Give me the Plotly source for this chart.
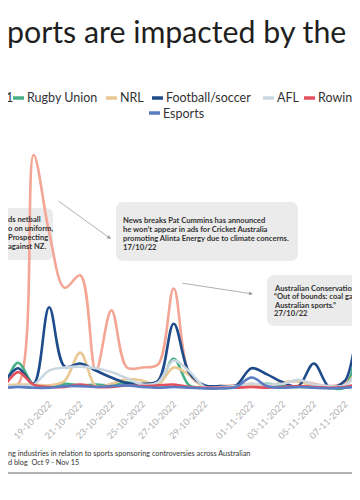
import plotly.graph_objects as go

# ---------------- data ----------------
dates = ["2022-10-15", "2022-10-16", "2022-10-17", "2022-10-18", "2022-10-19", "2022-10-20",
         "2022-10-21", "2022-10-22", "2022-10-23", "2022-10-24", "2022-10-25", "2022-10-26",
         "2022-10-27", "2022-10-28", "2022-10-29", "2022-10-30", "2022-10-31", "2022-11-01",
         "2022-11-02", "2022-11-03", "2022-11-04", "2022-11-05", "2022-11-06", "2022-11-07",
         "2022-11-08", "2022-11-09"]

cricket = [0.3, 0.2, 0.5, 29.9, 20.0, 12.9, 14.5, 2.3, 10.0, 2.7, 2.7, 3.1, 12.8, 1.8, 0.3, 0.3,
           0.4, 0.6, 0.4, 0.7, 1.0, 0.6, 0.3, 0.8, 3.0, 2.0]
rugby_union = [0.2, 0.4, 3.3, 0.5, 0.2, 0.6, 0.4, 0.5, 0.4, 0.8, 0.4, 0.5, 3.8, 0.4, 0.1, 0.1,
               0.2, 0.3, 0.6, 0.3, 0.2, 0.2, 0.1, 0.1, 5.0, 4.0]
nrl = [0.3, 0.4, 0.5, 0.5, 0.4, 1.0, 4.6, 0.3, 0.6, 1.2, 1.0, 0.5, 2.7, 1.7, 0.1, 0.1,
       0.2, 0.4, 0.3, 0.8, 0.9, 0.3, 0.1, 0.3, 2.6, 2.0]
football = [0.3, 0.8, 2.6, 0.6, 10.4, 2.8, 3.2, 2.3, 1.4, 0.7, 0.6, 1.0, 8.3, 2.0, 0.4, 0.3,
            0.4, 2.6, 1.8, 0.8, 0.3, 3.2, 0.2, 1.0, 7.0, 6.0]
afl = [0.3, 0.3, 0.3, 0.5, 2.3, 2.7, 2.8, 2.6, 2.1, 1.3, 0.5, 0.8, 3.6, 2.2, 0.2, 0.2,
       0.3, 0.6, 0.5, 0.6, 1.1, 0.5, 0.3, 0.4, 2.0, 1.5]
rowing = [0.2, 0.3, 2.1, 0.5, 0.2, 0.2, 0.5, 0.2, 0.2, 0.4, 0.3, 0.4, 0.5, 0.2, 0.1, 0.1,
          0.1, 0.2, 0.1, 0.2, 0.3, 0.2, 0.1, 0.2, 0.6, 0.4]
esports = [0.1, 0.1, 0.2, 0.1, 0.1, 0.3, 0.3, 0.2, 0.3, 0.4, 0.2, 0.1, 0.2, 0.1, 0.0, 0.0,
           0.2, 1.4, 0.3, 0.1, 0.2, 0.1, 0.0, 0.1, 0.2, 0.1]

tick_vals = ["2022-10-15", "2022-10-17", "2022-10-19", "2022-10-21", "2022-10-23", "2022-10-25",
             "2022-10-27", "2022-10-29", "2022-11-01", "2022-11-03", "2022-11-05", "2022-11-07",
             "2022-11-09"]
tick_text = ["15-10-2022", "17-10-2022", "19-10-2022", "21-10-2022", "23-10-2022", "25-10-2022",
             "27-10-2022", "29-10-2022", "01-11-2022", "03-11-2022", "05-11-2022", "07-11-2022",
             "09-11-2022"]

series = [
    ("Cricket", cricket, "#f4a594"),
    ("Rugby Union", rugby_union, "#46b087"),
    ("NRL", nrl, "#e9c893"),
    ("Football/soccer", football, "#1e4c8a"),
    ("AFL", afl, "#cad7e1"),
    ("Rowing", rowing, "#e2505e"),
    ("Esports", esports, "#5a7cc2"),
]

# ---------------- layout helpers ----------------
# The page places the figure 8px in from the top-left corner; positions below
# are given in window pixels and converted to figure/paper coordinates.
OFF = 8
FW, FH = 372, 492
PT, PB = 132, 383          # plot area top / bottom (figure px)
PH = PB - PT
FONT = "Lato"


def fx(s):
    return (s - OFF) / FW


def fy(s):
    return (PB - (s - OFF)) / PH


def rrect(x0, y0, x1, y1, r):
    rx, ry = r / FW, r / PH
    X0, X1 = fx(x0), fx(x1)
    Y0, Y1 = fy(y0), fy(y1)   # Y0 top, Y1 bottom
    return (f"M{X0 + rx},{Y0} L{X1 - rx},{Y0} Q{X1},{Y0} {X1},{Y0 - ry} "
            f"L{X1},{Y1 + ry} Q{X1},{Y1} {X1 - rx},{Y1} L{X0 + rx},{Y1} "
            f"Q{X0},{Y1} {X0},{Y1 + ry} L{X0},{Y0 - ry} Q{X0},{Y0} {X0 + rx},{Y0} Z")


fig = go.Figure()
for name, vals, col in series:
    fig.add_trace(go.Scatter(x=dates, y=vals, name=name, mode="lines",
                             line=dict(color=col, width=2.6, shape="spline", smoothing=1.0),
                             showlegend=False))

shapes = []
annotations = []


def txt(text, x, y, size, color="#333333", bold=False, xanchor="left"):
    annotations.append(dict(text=text, x=fx(x), y=fy(y), xref="paper", yref="paper",
                            xanchor=xanchor, yanchor="middle", showarrow=False,
                            font=dict(family=FONT, size=size, color=color,
                                      weight="bold" if bold else "normal")))


# title (cropped in the reference)
txt("ports are impacted by the", 5, 31, 30.3, color="#1f1f1f")

# legend (custom, cropped)
legend_items = [
    ("Rugby Union", "#46b087", 13, 98),
    ("NRL", "#e9c893", 106, 98),
    ("Football/soccer", "#1e4c8a", 152, 98),
    ("AFL", "#cad7e1", 263, 98),
    ("Rowing", "#e2505e", 304, 98),
    ("Esports", "#5a7cc2", 149, 113),
]
txt("1", 4, 98, 12.5)
for label, col, x0, y0 in legend_items:
    shapes.append(dict(type="line", xref="paper", yref="paper", x0=fx(x0), x1=fx(x0 + 11),
                       y0=fy(y0), y1=fy(y0), line=dict(color=col, width=3.5)))
    txt(label, x0 + 12, y0, 12.5)

# callout boxes
BOX = "#ebebeb"
shapes.append(dict(type="path", xref="paper", yref="paper", path=rrect(-20, 208, 53, 260, 7),
                   fillcolor=BOX, line=dict(width=0), layer="below"))
shapes.append(dict(type="path", xref="paper", yref="paper", path=rrect(116, 202, 298, 261, 8),
                   fillcolor=BOX, line=dict(width=0), layer="below"))
shapes.append(dict(type="path", xref="paper", yref="paper", path=rrect(267, 275, 420, 326, 8),
                   fillcolor=BOX, line=dict(width=0), layer="below"))

left_lines = ["ds netball", "o on uniform,", "Prospecting", "against NZ."]
for i, s in enumerate(left_lines):
    txt(s, 6, 219 + 9 * i, 7.6, bold=True)

mid_lines = ["News breaks Pat Cummins has announced",
             "he won\u2019t appear in ads for Cricket Australia",
             "promoting Alinta Energy due to climate concerns.",
             "17/10/22"]
for i, s in enumerate(mid_lines):
    txt(s, 121, 220 + 9 * i, 7.6, bold=True)

right_lines = ["Australian Conservation Fo",
               "\u201cOut of bounds: coal gas a",
               "Australian sports.\u201d",
               "27/10/22"]
for i, s in enumerate(right_lines):
    txt(s, 272, 288 + 8.4 * i, 7.6, bold=True)

# arrows
for hx, hy, tx, ty in [(111, 239, 57, 200), (253, 294, 181, 283)]:
    annotations.append(dict(text="", x=fx(hx), y=fy(hy), xref="paper", yref="paper",
                            ax=tx - hx, ay=ty - hy, showarrow=True, arrowhead=2,
                            arrowsize=1.0, arrowwidth=0.8, arrowcolor="#9a9a9a"))

# caption (cropped)
txt("ng industries in relation to sports sponsoring controversies across Australian", 6, 453, 7.3)
txt("d blog  Oct 9 - Nov 15", 6, 462.5, 7.3)
shapes.append(dict(type="line", xref="paper", yref="paper", x0=fx(0), x1=fx(400),
                   y0=fy(473), y1=fy(473), line=dict(color="#b3b3b3", width=2)))

fig.update_layout(
    width=FW, height=FH,
    margin=dict(l=0, r=0, t=PT, b=FH - PB),
    paper_bgcolor="white", plot_bgcolor="white",
    shapes=shapes, annotations=annotations,
    showlegend=False,
    font=dict(family=FONT),
)
fig.update_xaxes(type="date", range=["2022-10-16 08:35", "2022-11-09 06:00"],
                 tickvals=tick_vals, ticktext=tick_text, tickangle=-45,
                 tickfont=dict(family=FONT, size=9.2, color="#b0b0b0"),
                 ticklabelstandoff=5,
                 showgrid=False, zeroline=False, showline=False, ticks="")
fig.update_yaxes(range=[-0.32, 31.82], visible=False, showgrid=False, zeroline=False)

fig.write_html("out.html")
